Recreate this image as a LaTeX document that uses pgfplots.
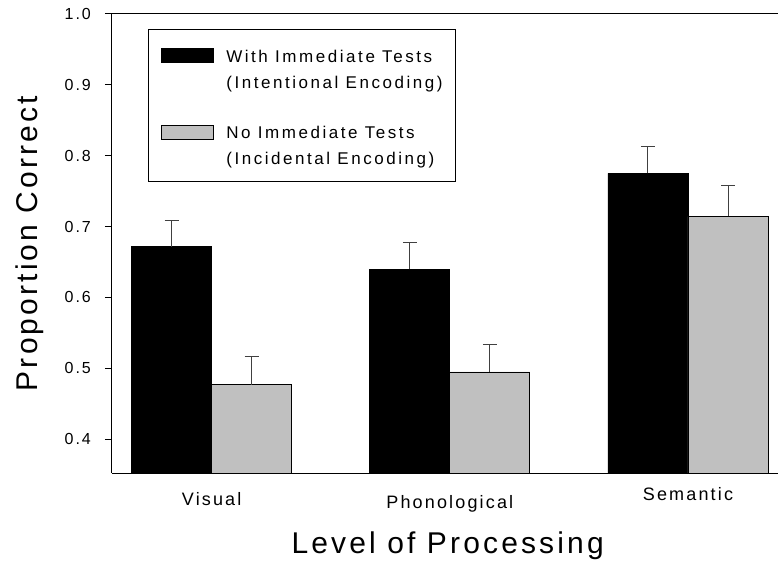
\documentclass[border=0pt]{standalone}
\usepackage{pgfplots}
\pgfplotsset{compat=1.18}
\usepackage{fontspec}
\setmainfont{Liberation Sans}
\newfontfamily\tickfont[LetterSpace=12]{Liberation Sans}
\newfontfamily\legfont[LetterSpace=15]{Liberation Sans}
\newfontfamily\bigfont[LetterSpace=10.5]{Liberation Sans}
\definecolor{barGray}{HTML}{C0C0C0}
\definecolor{errC}{HTML}{404040}
\begin{document}
\begin{tikzpicture}
\useasboundingbox (-112pt,-94pt) rectangle (666pt,473pt);
\begin{axis}[
  at={(0pt,0pt)}, anchor=south west,
  scale only axis, width=666pt, height=459pt,
  xmin=-0.4186, xmax=2.378, ymin=0.352, ymax=1.0,
  axis line style={draw=none},
  ytick={0.4,0.5,0.6,0.7,0.8,0.9,1.0},
  ytick pos=left, tick align=outside, major tick length=7pt,
  ytick style={line width=1pt, black},
  yticklabel style={/pgf/number format/fixed, /pgf/number format/fixed zerofill, /pgf/number format/precision=1, /pgf/number format/assume math mode=true},
  yticklabel style={font=\tickfont\fontsize{16}{19}\selectfont, anchor=east, inner sep=0pt, xshift=-14pt},
  xtick={0,1,2}, xticklabels={Visual,{\raisebox{-3pt}{Phonological}},{\raisebox{5pt}{Semantic}}},
  xtick style={draw=none}, xtick pos=bottom,
  xticklabel style={font=\tickfont\fontsize{18}{21}\selectfont, anchor=base, inner sep=0pt, yshift=-25pt},
  xlabel={Level of Processing}, ylabel={Proportion Correct},
  every axis x label/.style={at={(rel axis cs:0.504,-0.1743)}, anchor=base, font=\bigfont\fontsize{30}{34}\selectfont, inner sep=0pt},
  every axis y label/.style={at={(rel axis cs:-0.1126,0.5)}, rotate=90, anchor=base, font=\bigfont\fontsize{30}{34}\selectfont, inner sep=0pt},
  legend image code/.code={\draw[#1] (0pt,25.5pt) rectangle (52pt,39.5pt);},
  legend style={at={(rel axis cs:0.05405,0.9673)}, anchor=north west, draw=black, line width=1pt, fill=white,
    font=\legfont\fontsize{17}{25.5}\selectfont, inner xsep=13pt, inner ysep=14pt,
    nodes={inner sep=0pt, text depth={}}, cells={anchor=base west, align=left}, row sep=33pt,
    /tikz/every odd column/.append style={column sep=12pt}},
  clip=false,
]
\addplot[ybar, bar width=0.336, bar shift=0, fill=black, draw=black, line width=0.8pt,
  error bars/.cd, y dir=plus, y explicit,
  error bar style={line width=1pt, errC},
  error mark options={line width=1pt, mark size=7pt, errC, rotate=90}]
  coordinates {(-0.168,0.6715) +- (0,0.0365) (0.832,0.6396) +- (0,0.0374) (1.832,0.775) +- (0,0.0377)};
\addlegendentry{\rule{0pt}{19pt}With Immediate Tests\\(Intentional Encoding)}
\addplot[ybar, bar width=0.336, bar shift=0, fill=barGray, draw=black, line width=0.8pt,
  error bars/.cd, y dir=plus, y explicit,
  error bar style={line width=1pt, errC},
  error mark options={line width=1pt, mark size=7pt, errC, rotate=90}]
  coordinates {(0.168,0.4766) +- (0,0.0394) (1.168,0.4946) +- (0,0.0384) (2.168,0.7144) +- (0,0.0432)};
\addlegendentry{No Immediate Tests\\(Incidental Encoding)}
\draw[line width=1pt] (rel axis cs:0,1) -- (rel axis cs:1,1);
\draw[line width=1pt] (rel axis cs:0,0) -- (rel axis cs:1,0);
\draw[line width=1pt] (rel axis cs:0,0) -- (rel axis cs:0,1);
\end{axis}
\end{tikzpicture}
\end{document}
